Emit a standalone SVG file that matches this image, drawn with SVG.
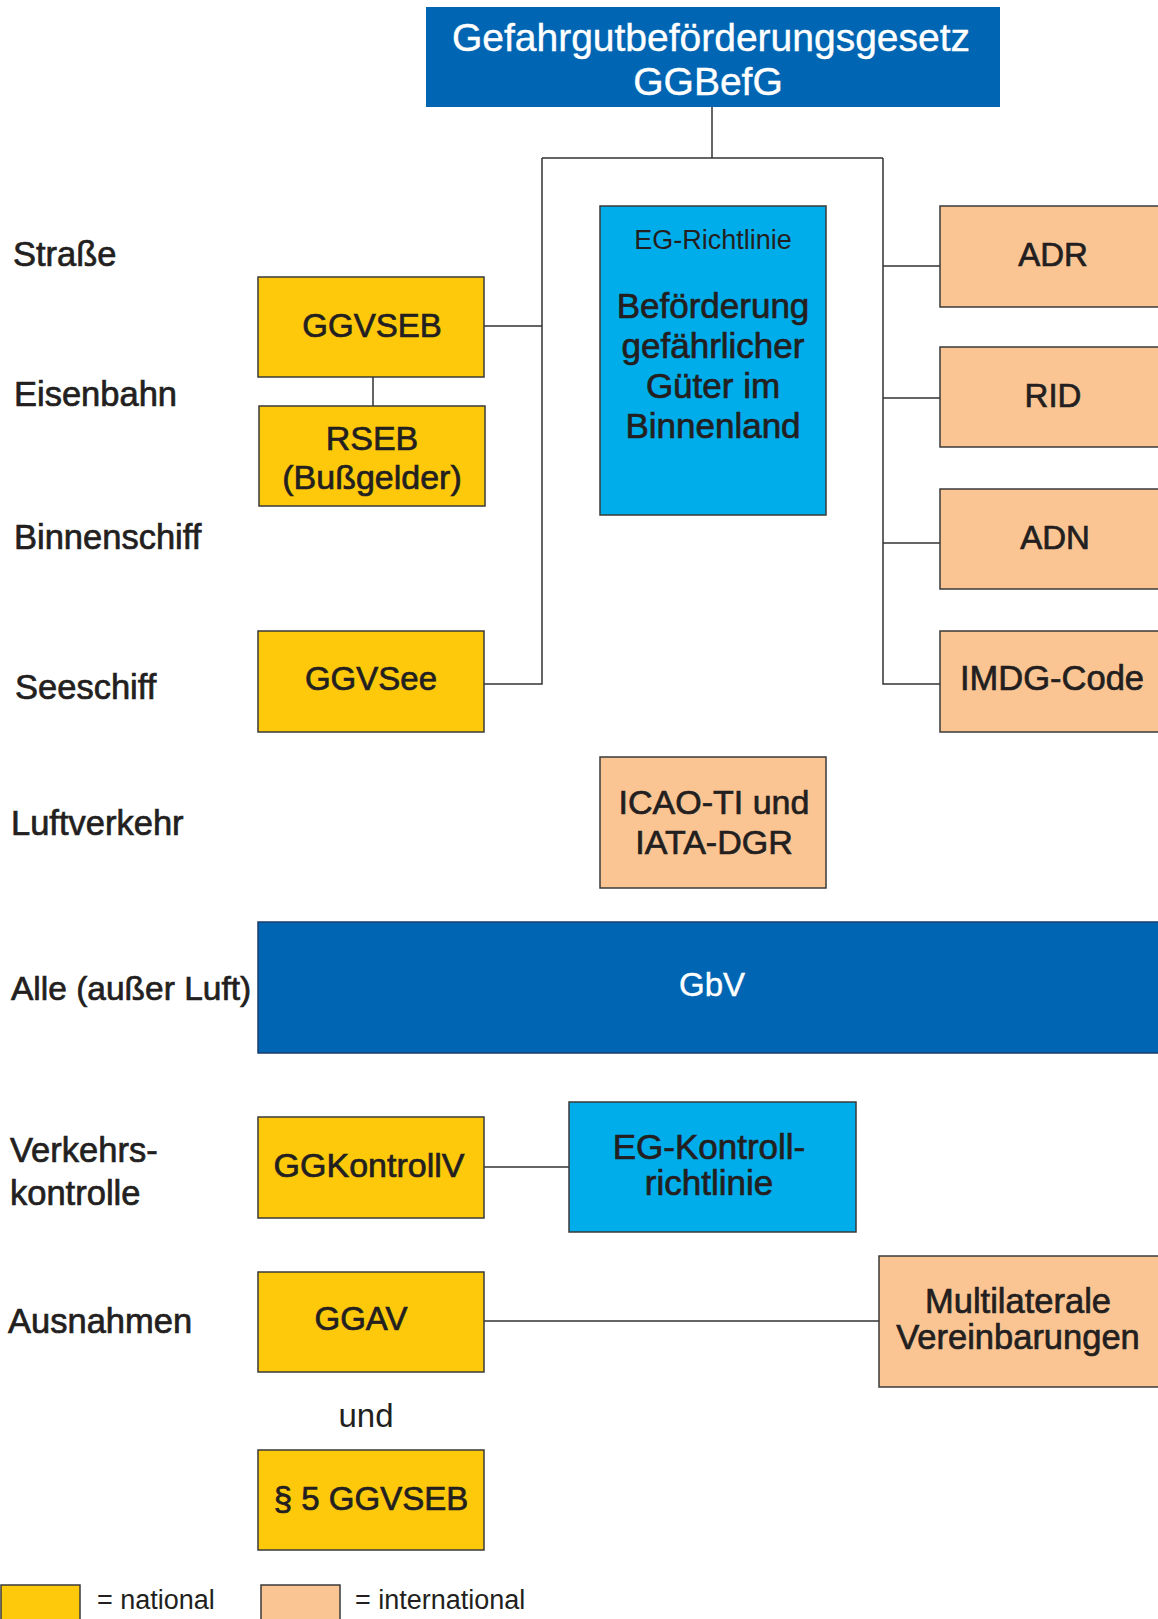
<svg xmlns="http://www.w3.org/2000/svg" width="1158" height="1619" viewBox="0 0 1158 1619">
<style>
text{font-family:"Liberation Sans",Arial,sans-serif;fill:#231f20}
.n{font-size:33px;text-anchor:middle;stroke:#231f20;stroke-width:0.7}
.l{font-size:35px}
.lab{font-size:34.5px;stroke:#231f20;stroke-width:0.7}
.w{fill:#fff;stroke:#fff;stroke-width:0.4}
.box{stroke:#3a3a3a;stroke-width:1.5}
.nat{fill:#fdc90a}
.int{fill:#fbc593}
.dk{fill:#0066b3;stroke:none}
.lt{fill:#00adeb}
.c{stroke:#333;stroke-width:1.5;fill:none}
</style>
<rect width="1158" height="1619" fill="#fff"/>
<g id="connectors">
<path class="c" d="M712 107V158M542 158H883M542 158V684H484M542 326H484M373 377V406M883 158V684H940M883 266H940M883 398H940M883 543H940M484 1167H569M484 1321H879"/>
</g>
<g id="labels">
<text class="lab" x="13" y="266">Straße</text>
<text class="lab" x="14" y="406">Eisenbahn</text>
<text class="lab" x="14" y="549">Binnenschiff</text>
<text class="lab" x="15" y="699">Seeschiff</text>
<text class="lab" x="11" y="835">Luftverkehr</text>
<text class="lab" x="11" y="1000" style="font-size:33.5px">Alle (außer Luft)</text>
<text class="lab" x="10" y="1162">Verkehrs-</text>
<text class="lab" x="10" y="1205">kontrolle</text>
<text class="lab" x="8" y="1333">Ausnahmen</text>
</g>
<g id="ggbefg">
<rect class="dk" x="426" y="7" width="574" height="100"/>
<text class="n w" x="711" y="51" style="font-size:39px">Gefahrgutbeförderungsgesetz</text>
<text class="n w" x="708" y="95" style="font-size:39px">GGBefG</text>
</g>
<g id="ggvseb"><rect class="box nat" x="258" y="277" width="226" height="100"/><text class="n" x="372" y="337">GGVSEB</text></g>
<g id="rseb"><rect class="box nat" x="259" y="406" width="226" height="100"/><text class="n" x="372" y="450" style="font-size:34px">RSEB</text><text class="n" x="372" y="489" style="font-size:34px">(Bußgelder)</text></g>
<g id="ggvsee"><rect class="box nat" x="258" y="631" width="226" height="101"/><text class="n" x="371" y="690">GGVSee</text></g>
<g id="eg-richtlinie"><rect class="box lt" x="600" y="206" width="226" height="309"/>
<text x="713" y="249" style="font-size:27px;text-anchor:middle">EG-Richtlinie</text>
<text class="n l" x="713" y="318">Beförderung</text>
<text class="n l" x="713" y="358">gefährlicher</text>
<text class="n l" x="713" y="398">Güter im</text>
<text class="n l" x="713" y="438">Binnenland</text></g>
<g id="adr"><rect class="box int" x="940" y="206" width="230" height="101"/><text class="n" x="1053" y="266">ADR</text></g>
<g id="rid"><rect class="box int" x="940" y="347" width="230" height="100"/><text class="n" x="1053" y="407">RID</text></g>
<g id="adn"><rect class="box int" x="940" y="489" width="230" height="100"/><text class="n" x="1055" y="549">ADN</text></g>
<g id="imdg"><rect class="box int" x="940" y="631" width="230" height="101"/><text class="n" x="1052" y="690" style="font-size:34.5px">IMDG-Code</text></g>
<g id="icao"><rect class="box int" x="600" y="757" width="226" height="131"/><text class="n" x="714" y="814" style="font-size:34px">ICAO-TI und</text><text class="n" x="714" y="854" style="font-size:34px">IATA-DGR</text></g>
<g id="gbv"><rect class="dk" x="258" y="922" width="912" height="131"/><rect x="258" y="922" width="912" height="131" fill="none" stroke="#1d3d6e" stroke-width="1.5"/><text class="n w" x="712" y="996">GbV</text></g>
<g id="ggkontrollv"><rect class="box nat" x="258" y="1117" width="226" height="101"/><text class="n" x="369" y="1177" style="font-size:34px">GGKontrollV</text></g>
<g id="eg-kontroll"><rect class="box lt" x="569" y="1102" width="287" height="130"/><text class="n l" x="709" y="1159">EG-Kontroll-</text><text class="n l" x="709" y="1195">richtlinie</text></g>
<g id="ggav"><rect class="box nat" x="258" y="1272" width="226" height="100"/><text class="n" x="361" y="1330">GGAV</text></g>
<g id="multilateral"><rect class="box int" x="879" y="1256" width="291" height="131"/><text class="n" x="1018" y="1313" style="font-size:34.5px">Multilaterale</text><text class="n" x="1018" y="1349" style="font-size:34.5px">Vereinbarungen</text></g>
<text x="366" y="1427" style="font-size:33px;text-anchor:middle">und</text>
<g id="p5ggvseb"><rect class="box nat" x="258" y="1450" width="226" height="100"/><text class="n" x="371" y="1510">§ 5 GGVSEB</text></g>
<g id="legend">
<rect class="box nat" x="1" y="1585" width="79" height="45"/>
<text x="97" y="1609" style="font-size:27px">= national</text>
<rect class="box int" x="261" y="1585" width="79" height="45"/>
<text x="355" y="1609" style="font-size:27px">= international</text>
</g>
</svg>
